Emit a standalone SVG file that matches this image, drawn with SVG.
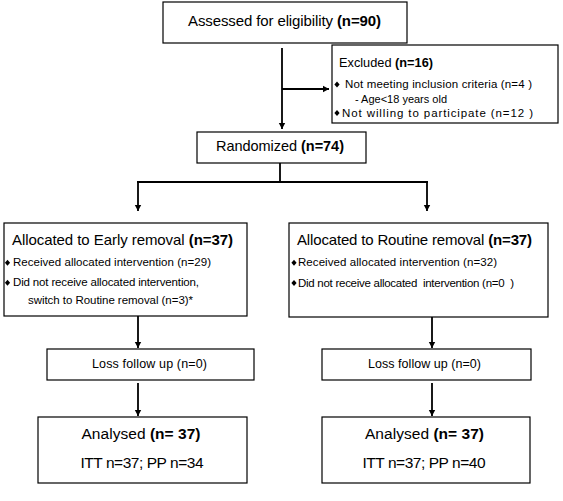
<svg xmlns="http://www.w3.org/2000/svg" width="563" height="501" viewBox="0 0 563 501">
<style>
.box{fill:#fff;stroke:#000;stroke-width:1.2}
.t{font-family:"Liberation Sans",Arial,sans-serif;fill:#000}
.b{font-weight:bold}
.pre{white-space:pre}
.ln{stroke:#000;stroke-width:1.8;fill:none}
</style>
<defs>
<marker id="ah" markerWidth="6" markerHeight="8" refX="6" refY="4" orient="auto" markerUnits="userSpaceOnUse" viewBox="0 0 6 8">
<path d="M0,0.8 L6,4 L0,7.2 Z" fill="#000"/>
</marker>
<path id="dm" d="M0,-3 L2.6,0 L0,3 L-2.6,0 Z" fill="#000"/>
</defs>
<rect width="563" height="501" fill="#fff"/>

<g id="connectors">
<path class="ln" d="M282,48 V129" marker-end="url(#ah)"/>
<path class="ln" d="M282,89 H329" marker-end="url(#ah)"/>
<path class="ln" d="M280,163 V181"/>
<path class="ln" d="M137,182 H428" stroke-width="2.2"/>
<path class="ln" d="M138,182 V211" marker-end="url(#ah)"/>
<path class="ln" d="M427,182 V211" marker-end="url(#ah)"/>
<path class="ln" d="M138,316 V348" marker-end="url(#ah)"/>
<path class="ln" d="M432,317 V348" marker-end="url(#ah)"/>
<path class="ln" d="M138,383 V416" marker-end="url(#ah)"/>
<path class="ln" d="M432,383 V416" marker-end="url(#ah)"/>
</g>

<g id="assessed">
<rect class="box" x="163" y="2" width="244" height="41"/>
<text class="t" x="188" y="26" font-size="15" textLength="193">Assessed for eligibility <tspan class="b">(n=90)</tspan></text>
</g>

<g id="excluded">
<rect class="box" x="332" y="45" width="226" height="78"/>
<text class="t" x="339" y="67" font-size="12.75" textLength="94">Excluded <tspan class="b">(n=16)</tspan></text>
<use href="#dm" x="337" y="84.5"/>
<text class="t" x="345" y="88" font-size="11.5" textLength="187">Not meeting inclusion criteria (n=4 )</text>
<text class="t" x="355" y="103" font-size="11" textLength="92">- Age&lt;18 years old</text>
<use href="#dm" x="337" y="113"/>
<text class="t" x="342" y="116.5" font-size="11.5" textLength="191">Not willing to participate (n=12 )</text>
</g>

<g id="randomized">
<rect class="box" x="197" y="132" width="169" height="31"/>
<text class="t" x="216" y="151" font-size="14.5" textLength="128">Randomized <tspan class="b">(n=74)</tspan></text>
</g>

<g id="early">
<rect class="box" x="4" y="223" width="243" height="93"/>
<text class="t" x="12" y="245" font-size="15" textLength="221">Allocated to Early removal <tspan class="b">(n=37)</tspan></text>
<use href="#dm" x="7.5" y="262.7"/>
<text class="t" x="13" y="266" font-size="11.5" textLength="198">Received allocated intervention (n=29)</text>
<use href="#dm" x="7.5" y="282.7"/>
<text class="t" x="13" y="286" font-size="11.5" textLength="186">Did not receive allocated intervention,</text>
<text class="t" x="28" y="303.5" font-size="11.5" textLength="165">switch to Routine removal (n=3)*</text>
</g>

<g id="routine">
<rect class="box" x="289" y="223" width="259" height="94"/>
<text class="t" x="297" y="245" font-size="15" textLength="235">Allocated to Routine removal <tspan class="b">(n=37)</tspan></text>
<use href="#dm" x="294" y="262.7"/>
<text class="t" x="298" y="266" font-size="11.5" textLength="199">Received allocated intervention (n=32)</text>
<use href="#dm" x="294" y="283"/>
<text class="t pre" x="298" y="286.5" font-size="11.5" textLength="216">Did not receive allocated  intervention (n=0  )</text>
</g>

<g id="loss-early">
<rect class="box" x="47" y="349" width="207" height="31"/>
<text class="t" x="92" y="368" font-size="12.5" textLength="115">Loss follow up (n=0)</text>
</g>

<g id="loss-routine">
<rect class="box" x="322" y="349" width="209" height="31"/>
<text class="t" x="368" y="368" font-size="12.5" textLength="113">Loss follow up (n=0)</text>
</g>

<g id="analysed-early">
<rect class="box" x="38" y="417" width="209" height="66"/>
<text class="t" x="81.5" y="439" font-size="15.5" textLength="119">Analysed <tspan class="b">(n= 37)</tspan></text>
<text class="t" x="80.5" y="468" font-size="15.5" textLength="123">ITT n=37; PP n=34</text>
</g>

<g id="analysed-routine">
<rect class="box" x="322" y="417" width="208" height="66"/>
<text class="t" x="365" y="439" font-size="15.5" textLength="119">Analysed <tspan class="b">(n= 37)</tspan></text>
<text class="t" x="362.5" y="468" font-size="15.5" textLength="123">ITT n=37; PP n=40</text>
</g>
</svg>
